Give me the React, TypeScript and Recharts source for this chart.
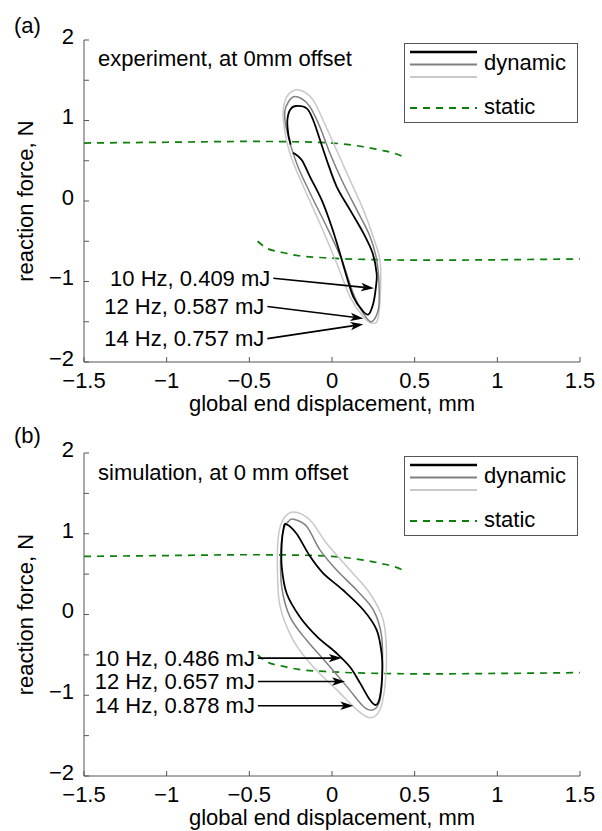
import React from "react";
import { ComposedChart, Line, XAxis, YAxis, ReferenceLine, Legend } from "recharts";

type Pt = { x: number; y: number };
const pts = (a: number[][]): Pt[] => a.map(([x, y]) => ({ x, y }));

const xTicks = [-1.5, -1, -0.5, 0, 0.5, 1, 1.5];
const yTicks = [-2, -1.5, -1, -0.5, 0, 0.5, 1, 1.5, 2];

// static force-displacement branches (same in both panels)
const staticUpper = pts([
  [-1.5, 0.72], [-1.0, 0.73], [-0.5, 0.74], [-0.2, 0.735], [0, 0.72], [0.1, 0.7],
  [0.2, 0.67], [0.3, 0.63], [0.38, 0.59], [0.43, 0.55],
]);
const staticLower = pts([
  [-0.45, -0.5], [-0.4, -0.58], [-0.3, -0.64], [-0.2, -0.68], [0, -0.71], [0.3, -0.73],
  [0.6, -0.735], [1.0, -0.73], [1.5, -0.72],
]);

// experiment loops, 10 / 12 / 14 Hz
const exp10 = pts([
  [-0.25, 0.7], [-0.265, 0.84], [-0.27, 1.0], [-0.254, 1.13], [-0.22, 1.18], [-0.153, 1.15],
  [-0.113, 1.0], [-0.073, 0.76], [-0.032, 0.51], [0.028, 0.18], [0.109, -0.11], [0.19, -0.4],
  [0.246, -0.65], [0.27, -0.9], [0.266, -1.06], [0.25, -1.27], [0.22, -1.41], [0.18, -1.35],
  [0.129, -1.19], [0.089, -0.94], [0.048, -0.65], [-0.002, -0.32], [-0.062, 0.01],
  [-0.133, 0.3], [-0.183, 0.51], [-0.235, 0.6],
]);
const exp12 = pts([
  [-0.238, 1.29], [-0.284, 1.13], [-0.274, 0.88], [-0.214, 0.47], [-0.133, 0.1], [-0.032, -0.32],
  [0.059, -0.73], [0.129, -1.15], [0.19, -1.4], [0.24, -1.5], [0.28, -1.35], [0.285, -1.06],
  [0.27, -0.73], [0.23, -0.44], [0.15, -0.11], [0.068, 0.22], [-0.012, 0.59], [-0.073, 0.92],
  [-0.133, 1.17], [-0.183, 1.27],
]);
const exp14 = pts([
  [-0.234, 1.37], [-0.284, 1.25], [-0.294, 1.0], [-0.254, 0.59], [-0.173, 0.18], [-0.073, -0.28],
  [0.028, -0.77], [0.109, -1.19], [0.19, -1.44], [0.25, -1.52], [0.28, -1.44], [0.294, -1.06],
  [0.29, -0.73], [0.25, -0.45], [0.19, -0.11], [0.109, 0.26], [0.028, 0.63], [-0.053, 1.0],
  [-0.113, 1.25], [-0.173, 1.36],
]);

// simulation loops, 10 / 12 / 14 Hz
const sim10 = pts([
  [-0.278, 1.12], [-0.214, 1.0], [-0.133, 0.72], [-0.053, 0.51], [0.068, 0.3], [0.19, 0.056],
  [0.27, -0.19], [0.3, -0.48], [0.304, -0.73], [0.29, -1.02], [0.266, -1.12], [0.23, -1.06],
  [0.17, -0.85], [0.109, -0.65], [0.028, -0.48], [-0.092, -0.27], [-0.194, -0.03],
  [-0.274, 0.26], [-0.304, 0.59], [-0.304, 0.88], [-0.294, 1.05],
]);
const sim12 = pts([
  [-0.234, 1.18], [-0.153, 1.09], [-0.073, 0.8], [0.028, 0.55], [0.15, 0.3], [0.25, 0.056],
  [0.3, -0.27], [0.304, -0.73], [0.29, -1.06], [0.25, -1.18], [0.19, -1.14], [0.089, -0.89],
  [-0.032, -0.6], [-0.153, -0.32], [-0.254, -0.03], [-0.304, 0.34], [-0.31, 0.76],
  [-0.294, 1.05], [-0.264, 1.15],
]);
const sim14 = pts([
  [-0.234, 1.27], [-0.133, 1.17], [-0.032, 0.88], [0.109, 0.55], [0.23, 0.26], [0.31, -0.07],
  [0.33, -0.48], [0.32, -0.89], [0.29, -1.18], [0.23, -1.28], [0.15, -1.18], [0.028, -0.93],
  [-0.113, -0.65], [-0.234, -0.32], [-0.314, 0.1], [-0.33, 0.55], [-0.325, 0.96], [-0.294, 1.18],
]);

const expNotes = [
  { label: "10 Hz, 0.409 mJ", from: [-0.355, -0.96], to: [0.254, -1.085] },
  { label: "12 Hz, 0.587 mJ", from: [-0.391, -1.31], to: [0.19, -1.46] },
  { label: "14 Hz, 0.757 mJ", from: [-0.391, -1.71], to: [0.19, -1.53] },
];
const simNotes = [
  { label: "10 Hz, 0.486 mJ", from: [-0.448, -0.54], to: [0.059, -0.54] },
  { label: "12 Hz, 0.657 mJ", from: [-0.448, -0.83], to: [0.079, -0.83] },
  { label: "14 Hz, 0.878 mJ", from: [-0.448, -1.13], to: [0.129, -1.13] },
];

const dynColors = ["#000000", "#808080", "#c8c8c8"];
const dynWidths = [1.8, 1.5, 1.5];
const green = "#0a800a";
const axisColor = "#555555";
const font = "'Liberation Sans', Arial, sans-serif";

// closed / open Catmull-Rom curve so the loops pass through the read points
const catmull = (closed: boolean) => (context: any) => {
  let p: number[][] = [];
  return {
    areaStart() {},
    areaEnd() {},
    lineStart() {
      p = [];
    },
    point(x: number, y: number) {
      p.push([+x, +y]);
    },
    lineEnd() {
      const n = p.length;
      if (!n) return;
      const g = (i: number) => (closed ? p[(i + n) % n] : p[Math.max(0, Math.min(n - 1, i))]);
      context.moveTo(p[0][0], p[0][1]);
      const segs = closed ? n : n - 1;
      for (let i = 0; i < segs; i++) {
        const a = g(i - 1), b = g(i), c = g(i + 1), d = g(i + 2);
        context.bezierCurveTo(
          b[0] + (c[0] - a[0]) / 6, b[1] + (c[1] - a[1]) / 6,
          c[0] - (d[0] - b[0]) / 6, c[1] - (d[1] - b[1]) / 6,
          c[0], c[1]
        );
      }
      if (closed) context.closePath();
    },
  };
};
const closedCurve = catmull(true);
const openCurve = catmull(false);

const fmtX = (v: number) => (v < 0 ? "\u2212" + Math.abs(v) : String(v));
const fmtY = (v: number) => (Number.isInteger(v) ? fmtX(v) : "");

const Arrow = (p: any) => {
  const { x1, y1, x2, y2, text } = p;
  const ang = Math.atan2(y2 - y1, x2 - x1);
  const L = 13, W = 4.2;
  const cs = Math.cos(ang), sn = Math.sin(ang);
  const bx = x2 - L * cs, by = y2 - L * sn;
  const mx = x2 - L * 0.75 * cs, my = y2 - L * 0.75 * sn;
  const nx = -sn * W, ny = cs * W;
  return (
    <g>
      <line x1={x1} y1={y1} x2={mx} y2={my} stroke="#000" strokeWidth={1.6} />
      <polygon
        points={`${x2},${y2} ${bx + nx},${by + ny} ${mx},${my} ${bx - nx},${by - ny}`}
        fill="#000"
      />
      <text x={x1 - 3} y={y1 + 7.5} textAnchor="end" fontSize={22} fill="#000" fontFamily={font}>
        {text}
      </text>
    </g>
  );
};

const LegendBox = () => (
  <svg width={174} height={80} style={{ display: "block" }}>
    <rect x={0.5} y={0.5} width={173} height={79} fill="#fff" stroke={axisColor} />
    {dynColors.map((c, i) => (
      <line key={c} x1={6} x2={73} y1={9 + i * 12.5} y2={9 + i * 12.5} stroke={c} strokeWidth={i === 0 ? 2.4 : 1.8} />
    ))}
    <text x={80} y={27} fontSize={22} fontFamily={font} fill="#000">dynamic</text>
    <line x1={6} x2={73} y1={65} y2={65} stroke={green} strokeWidth={1.8} strokeDasharray="7 6" />
    <text x={80} y={71} fontSize={22} fontFamily={font} fill="#000">static</text>
  </svg>
);

type PanelProps = {
  top: number;
  height: number;
  bottom: number;
  tag: string;
  tagY: number;
  title: string;
  titleY: number;
  loops: Pt[][];
  openFirst: boolean;
  notes: { label: string; from: number[]; to: number[] }[];
};

const Panel = ({ top, height, bottom, tag, tagY, title, titleY, loops, openFirst, notes }: PanelProps) => (
  <div style={{ position: "absolute", left: 0, top, width: 602, height }}>
    <ComposedChart width={602} height={height} margin={{ top: 40, right: 22, bottom, left: 24 }}>
      <XAxis
        type="number"
        dataKey="x"
        domain={[-1.5, 1.5]}
        ticks={xTicks}
        allowDataOverflow
        height={30}
        tickSize={-5}
        tickMargin={15}
        tickFormatter={fmtX}
        tick={{ fontSize: 22, fill: "#000", fontFamily: font }}
        stroke={axisColor}
        label={{
          content: (lp: any) => (
            <text
              x={lp.viewBox.x + lp.viewBox.width / 2}
              y={lp.viewBox.y + 49}
              textAnchor="middle"
              fontSize={22}
              fontFamily={font}
              fill="#000"
            >
              global end displacement, mm
            </text>
          ),
        }}
      />
      <XAxis
        xAxisId="top"
        orientation="top"
        type="number"
        domain={[-1.5, 1.5]}
        ticks={xTicks}
        allowDataOverflow
        height={0}
        tickSize={-5}
        tick={false}
        stroke={axisColor}
      />
      <YAxis
        type="number"
        domain={[-2, 2]}
        ticks={yTicks}
        allowDataOverflow
        width={60}
        tickSize={-5}
        tickMargin={15}
        tickFormatter={fmtY}
        tick={{ fontSize: 22, fill: "#000", fontFamily: font, dy: -4 }}
        stroke={axisColor}
        label={{
          content: (lp: any) => {
            const cy = lp.viewBox.y + lp.viewBox.height / 2;
            return (
              <text
                x={33}
                y={cy}
                transform={`rotate(-90, 33, ${cy})`}
                textAnchor="middle"
                fontSize={22}
                fontFamily={font}
                fill="#000"
              >
                reaction force, N
              </text>
            );
          },
        }}
      />
      <YAxis
        yAxisId="right"
        orientation="right"
        type="number"
        domain={[-2, 2]}
        ticks={yTicks}
        allowDataOverflow
        width={0}
        tickSize={-5}
        tick={false}
        stroke={axisColor}
      />
      {[staticUpper, staticLower].map((d, i) => (
        <Line
          key={"s" + i}
          data={d}
          dataKey="y"
          type="monotone"
          stroke={green}
          strokeWidth={1.7}
          strokeDasharray="7 6"
          dot={false}
          activeDot={false}
          isAnimationActive={false}
        />
      ))}
      {loops
        .map((d, i) => ({ d, i }))
        .reverse()
        .map(({ d, i }) => (
          <Line
            key={"l" + i}
            data={d}
            dataKey="y"
            type={(i === 0 && openFirst ? openCurve : closedCurve) as any}
            stroke={dynColors[i]}
            strokeWidth={dynWidths[i]}
            dot={false}
            activeDot={false}
            isAnimationActive={false}
          />
        ))}
      {notes.map((n) => (
        <ReferenceLine
          key={n.label}
          segment={[
            { x: n.from[0], y: n.from[1] },
            { x: n.to[0], y: n.to[1] },
          ]}
          shape={(p: any) => <Arrow {...p} text={n.label} />}
        />
      ))}
      <Legend
        layout="horizontal"
        verticalAlign="middle"
        align="center"
        content={() => <LegendBox />}
        wrapperStyle={{ left: 404, top: 43, width: 174, height: 80 }}
      />
    </ComposedChart>
    <svg width={602} height={height} style={{ position: "absolute", left: 0, top: 0, pointerEvents: "none" }}>
      <text x={14} y={tagY} fontSize={22} fontFamily={font} fill="#000">{tag}</text>
      <text x={98} y={titleY} fontSize={22} fontFamily={font} fill="#000">{title}</text>
    </svg>
  </div>
);

export default function App() {
  return (
    <div style={{ position: "absolute", left: 0, top: 0, width: 602, height: 831, background: "#fff", fontFamily: font }}>
      <Panel
        top={0}
        height={420}
        bottom={28}
        tag="(a)"
        tagY={33}
        title="experiment, at 0mm offset"
        titleY={66}
        loops={[exp10, exp12, exp14]}
        openFirst={true}
        notes={expNotes}
      />
      <Panel
        top={413}
        height={418}
        bottom={25}
        tag="(b)"
        tagY={30}
        title="simulation, at 0 mm offset"
        titleY={67}
        loops={[sim10, sim12, sim14]}
        openFirst={false}
        notes={simNotes}
      />
    </div>
  );
}
